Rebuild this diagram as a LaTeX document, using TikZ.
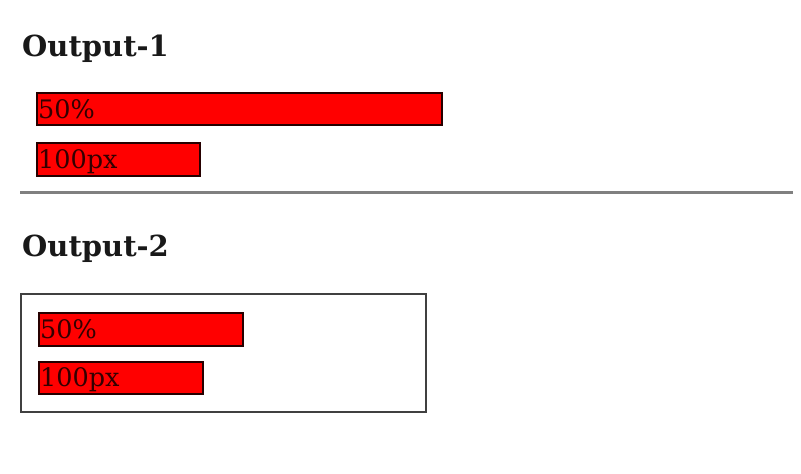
\documentclass[tikz,border=0pt]{standalone}
\usepackage{fontspec}
\setmainfont{DejaVu Serif}
\begin{document}
\begin{tikzpicture}[x=1pt,y=-1pt,
  bar/.style={draw=black!85!red,fill=red,line width=1.2pt},
  lbl/.style={anchor=base west,inner sep=0pt,font=\fontsize{25.5}{30}\selectfont,text=black!80!red},
  head/.style={anchor=base west,inner sep=0pt,font=\fontsize{29}{34}\selectfont\bfseries,text=black!90}]
\useasboundingbox[fill=white] (0,0) rectangle (801,474);
\node[head] (h1) at (22,56) {Output-1};
\draw[bar] (37,93) rectangle (442,125);
\node[lbl] (t1) at (38,118) {50\%};
\draw[bar] (37,143) rectangle (200,176);
\node[lbl] (t2) at (38,168) {100px};
\draw[gray,line width=3pt] (20,192) -- (793,192);
\node[head] (h2) at (22,256) {Output-2};
\draw[black!75,line width=1.4pt] (21,294) rectangle (426,412);
\draw[bar] (39,313) rectangle (243,346);
\node[lbl] (t3) at (40,338) {50\%};
\draw[bar] (39,362) rectangle (203,394);
\node[lbl] (t4) at (40,386) {100px};
\end{tikzpicture}
\end{document}
